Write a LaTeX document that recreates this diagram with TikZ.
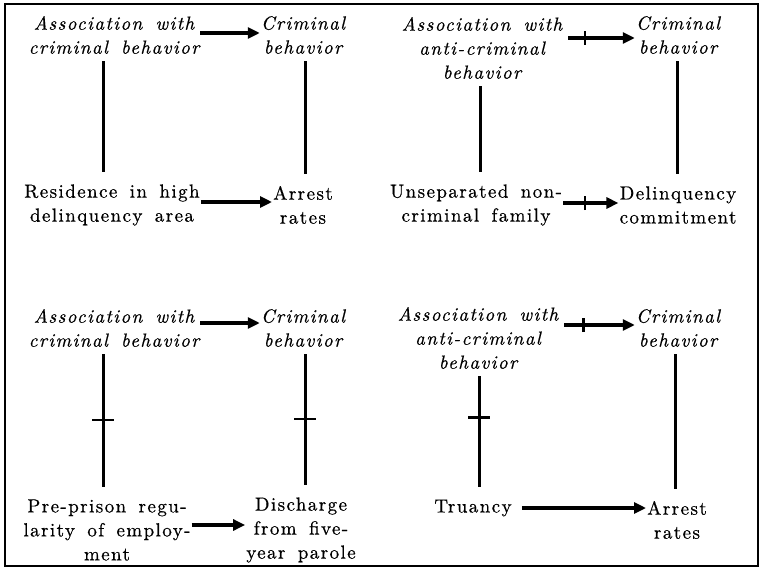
\documentclass[tikz,border=0pt]{standalone}
\usepackage{fontspec}
\setmainfont{lmroman10}[Extension=.otf, UprightFont=*-regular, ItalicFont=*-italic, LetterSpace=7.5, WordSpace=1.6, FakeBold=0.6]
\usepackage{tikz}
\usetikzlibrary{arrows.meta}

\begin{document}
\begin{tikzpicture}[x=1pt,y=-1pt,
  every node/.style={align=center,inner sep=1pt,font=\fontsize{19}{24}\selectfont},
  var/.style={font=\fontsize{19}{24}\selectfont\itshape},
  link/.style={line width=3pt,shorten <=6pt,shorten >=11pt},
  cause/.style={line width=3.2pt,-{Triangle[length=12pt,width=11pt]}},
  bar/.style={line width=2.4pt}]
  \useasboundingbox (0,0) rectangle (763,575);
  \draw[line width=1.4pt] (5,4) rectangle (758,566);

  % top left
  \node[var] (a1) at (114,35)  {Association with\\criminal behavior};
  \node[var] (b1) at (303,35)  {Criminal\\behavior};
  \node      (c1) at (112,205) {Residence in high\\delinquency area};
  \node      (d1) at (303,205) {Arrest\\rates};
  \draw[cause] (a1.east |- 0,33) -- (b1.west |- 0,33);
  \draw[cause] (c1.east |- 0,202) -- (d1.west |- 0,202);
  \draw[link] (a1.south -| 103,0) -- (c1.north -| 103,0);
  \draw[link] (b1.south -| 305,0) -- (d1.north -| 305,0);

  % top right
  \node[var] (a2) at (482,48)  {Association with\\anti-criminal\\behavior};
  \node[var] (b2) at (678,35)  {Criminal\\behavior};
  \node      (c2) at (476,205) {Unseparated non-\\criminal family};
  \node      (d2) at (678,205) {Delinquency\\commitment};
  \draw[cause,shorten <=5pt] (a2.east |- 0,38) -- coordinate[pos=0.3] (t1) (b2.west |- 0,38);
  \draw[bar] ([yshift=-7pt]t1) -- ([yshift=7pt]t1);
  \draw[cause] (c2.east |- 0,203) -- coordinate[pos=0.4] (t2) (d2.west |- 0,203);
  \draw[bar] ([yshift=-7pt]t2) -- ([yshift=7pt]t2);
  \draw[link] (a2.south -| 480,0) -- (c2.north -| 480,0);
  \draw[link] (b2.south -| 677,0) -- (d2.north -| 677,0);

  % bottom left
  \node[var] (a3) at (114,328) {Association with\\criminal behavior};
  \node[var] (b3) at (303,328) {Criminal\\behavior};
  \node      (c3) at (107,530) {Pre-prison regu-\\larity of employ-\\ment};
  \node      (d3) at (301,530) {Discharge\\from five-\\year parole};
  \draw[cause] (a3.east |- 0,323) -- (b3.west |- 0,323);
  \draw[cause] (c3.east |- 0,525) -- (d3.west |- 0,525);
  \draw[link] (a3.south -| 103,0) -- coordinate[pos=0.48] (t3) (c3.north -| 103,0);
  \draw[bar] ([xshift=-11pt]t3) -- ([xshift=11pt]t3);
  \draw[link] (b3.south -| 305,0) -- coordinate[pos=0.48] (t4) (d3.north -| 305,0);
  \draw[bar] ([xshift=-11pt]t4) -- ([xshift=11pt]t4);

  % bottom right
  \node[var] (a4) at (478,338) {Association with\\anti-criminal\\behavior};
  \node[var] (b4) at (678,328) {Criminal\\behavior};
  \node      (c4) at (473,508) {Truancy};
  \node      (d4) at (677,520) {Arrest\\rates};
  \draw[cause,shorten <=5pt] (a4.east |- 0,325) -- coordinate[pos=0.32] (t5) (b4.west |- 0,325);
  \draw[bar] ([yshift=-7pt]t5) -- ([yshift=7pt]t5);
  \draw[cause,shorten <=9pt] (c4.east) -- (d4.west |- c4.east);
  \draw[link] (a4.south -| 479,0) -- coordinate[pos=0.37] (t6) (c4.north -| 479,0);
  \draw[bar] ([xshift=-11pt]t6) -- ([xshift=11pt]t6);
  \draw[link] (b4.south -| 675,0) -- (d4.north -| 675,0);
\end{tikzpicture}
\end{document}
